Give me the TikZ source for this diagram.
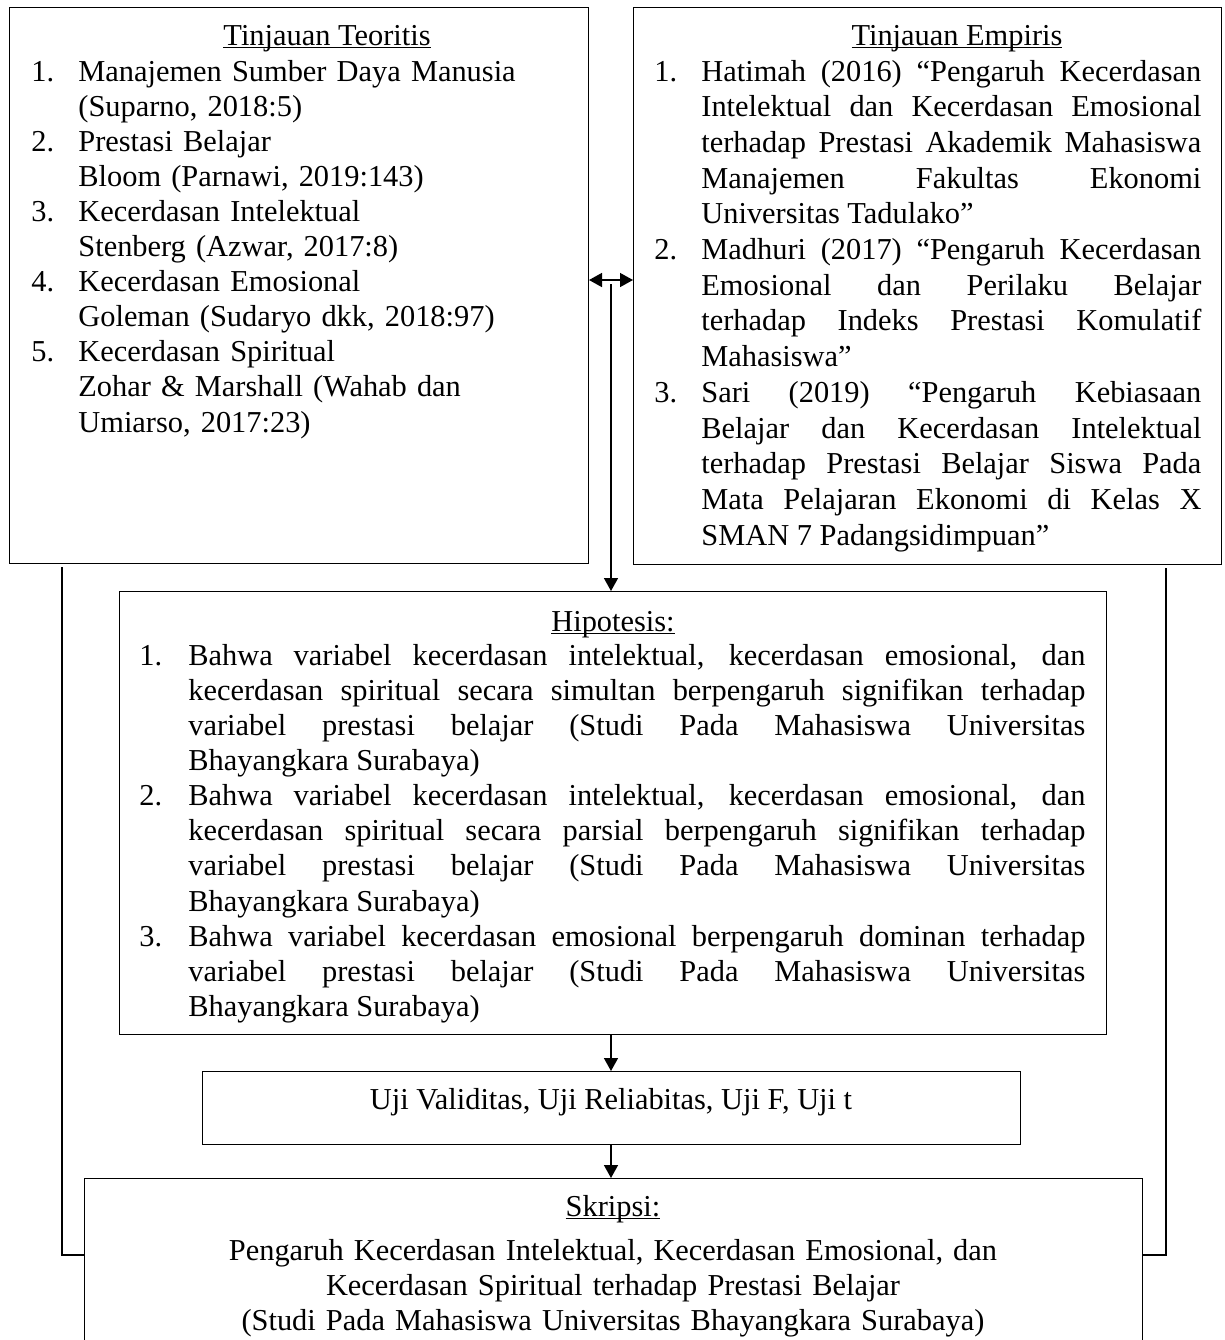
\documentclass[tikz,border=0pt]{standalone}
\usepackage{fontspec}
\setmainfont{Liberation Serif}
\usepackage{tikz}
\usetikzlibrary{arrows.meta}

\newcommand{\garisbawah}[1]{\setbox0=\hbox{#1}\rlap{\rule[-1.7pt]{\wd0}{0.6pt}}\box0}
\newcommand{\butir}[3][23.5pt]{\noindent\llap{\makebox[#1][l]{#2}}#3\par}

\tikzset{
  kotak/.style={draw, line width=0.5pt, inner sep=0pt, anchor=north west},
  judul/.style={inner sep=0pt, anchor=base, font=\fontsize{15.2pt}{17.5pt}\selectfont},
  isi/.style={inner sep=0pt, anchor=base west, font=\fontsize{15.2pt}{17.5pt}\selectfont,
    execute at begin node={\tolerance=10000\hbadness=10000\hyphenpenalty=10000}},
  panah/.style={line width=0.75pt, -{Triangle[length=6.5pt,width=7pt]}},
  panahdua/.style={line width=0.75pt, {Triangle[length=6.5pt,width=7pt]}-{Triangle[length=6.5pt,width=7pt]}},
  garis/.style={line width=0.75pt}
}

\begin{document}
\begin{tikzpicture}[x=0.5pt, y=-0.5pt]
\useasboundingbox (0,0) rectangle (1225,1340);
\clip (0,0) rectangle (1225,1340);
% kotak
\node[kotak, minimum width=289.5pt, minimum height=278pt] (teori) at (9,7) {};
\node[kotak, minimum width=294pt, minimum height=278.5pt] (empiris) at (633,7) {};
\node[kotak, minimum width=493.5pt, minimum height=221.5pt] (hipotesis) at (119,591) {};
\node[kotak, minimum width=409pt, minimum height=36.5pt] (uji) at (202,1071) {};
\node[kotak, minimum width=529pt, minimum height=125pt] (skripsi) at (84,1178) {};
% judul
\node[judul] (judulteori) at (327,45) {\garisbawah{Tinjauan Teoritis}};
\node[judul] (judulempiris) at (957,45) {\garisbawah{Tinjauan Empiris}};
\node[judul] (judulhipotesis) at (613,631) {\garisbawah{Hipotesis:}};
\node[judul] (teksuji) at (611,1109) {Uji Validitas, Uji Reliabitas, Uji F, Uji t};
\node[judul] (judulskripsi) at (613,1216) {\garisbawah{Skripsi:}};
% isi
\node[isi, text width=249pt, align=left, font=\fontsize{15.2pt}{17.55pt}\selectfont] (isiteori) at (78,81) {%
\butir{1.}{Manajemen Sumber Daya Manusia\\(Suparno, 2018:5)}%
\butir{2.}{Prestasi Belajar\\Bloom (Parnawi, 2019:143)}%
\butir{3.}{Kecerdasan Intelektual\\Stenberg (Azwar, 2017:8)}%
\butir{4.}{Kecerdasan Emosional\\Goleman (Sudaryo dkk, 2018:97)}%
\butir{5.}{Kecerdasan Spiritual\\Zohar \& Marshall (Wahab dan\\Umiarso, 2017:23)}%
};
\node[isi, text width=250pt, align=justify, font=\fontsize{15.2pt}{17.85pt}\selectfont] (isiempiris) at (701,81) {%
\butir{1.}{Hatimah (2016) “Pengaruh Kecerdasan\linebreak Intelektual dan Kecerdasan Emosional\linebreak terhadap Prestasi Akademik Mahasiswa\linebreak Manajemen Fakultas Ekonomi\linebreak Universitas Tadulako”}%
\butir{2.}{Madhuri (2017) “Pengaruh Kecerdasan\linebreak Emosional dan Perilaku Belajar\linebreak terhadap Indeks Prestasi Komulatif\linebreak Mahasiswa”}%
\butir{3.}{Sari (2019) “Pengaruh Kebiasaan\linebreak Belajar dan Kecerdasan Intelektual\linebreak terhadap Prestasi Belajar Siswa Pada\linebreak Mata Pelajaran Ekonomi di Kelas X\linebreak SMAN 7 Padangsidimpuan”}%
};
\node[isi, text width=448.5pt, align=justify, font=\fontsize{15.2pt}{17.58pt}\selectfont] (isihipotesis) at (188,665) {%
\butir[24.5pt]{1.}{Bahwa variabel kecerdasan intelektual, kecerdasan emosional, dan\linebreak kecerdasan spiritual secara simultan berpengaruh signifikan terhadap\linebreak variabel prestasi belajar (Studi Pada Mahasiswa Universitas\linebreak Bhayangkara Surabaya)}%
\butir[24.5pt]{2.}{Bahwa variabel kecerdasan intelektual, kecerdasan emosional, dan\linebreak kecerdasan spiritual secara parsial berpengaruh signifikan terhadap\linebreak variabel prestasi belajar (Studi Pada Mahasiswa Universitas\linebreak Bhayangkara Surabaya)}%
\butir[24.5pt]{3.}{Bahwa variabel kecerdasan emosional berpengaruh dominan terhadap\linebreak variabel prestasi belajar (Studi Pada Mahasiswa Universitas\linebreak Bhayangkara Surabaya)}%
};
\node[isi, anchor=base, text width=500pt, align=center] (isiskripsi) at (613,1260) {Pengaruh Kecerdasan Intelektual, Kecerdasan Emosional, dan\\Kecerdasan Spiritual terhadap Prestasi Belajar\\(Studi Pada Mahasiswa Universitas Bhayangkara Surabaya)};
% garis penghubung
\coordinate (tengah) at (611,280);
\coordinate (sikukiri) at (62,1255);
\coordinate (sikukanan) at (1166,1255);
\draw[panahdua] (teori.east |- tengah) -- (empiris.west |- tengah);
\draw[panah] ([yshift=-2pt]tengah) -- (hipotesis.north -| tengah);
\draw[panah] (hipotesis.south -| tengah) -- (uji.north -| tengah);
\draw[panah] (uji.south -| tengah) -- (skripsi.north -| tengah);
\draw[garis] ([yshift=-1.5pt]teori.south -| sikukiri) |- (skripsi.west |- sikukiri);
\draw[garis] ([yshift=-1.5pt]empiris.south -| sikukanan) |- (skripsi.east |- sikukanan);
\end{tikzpicture}
\end{document}
